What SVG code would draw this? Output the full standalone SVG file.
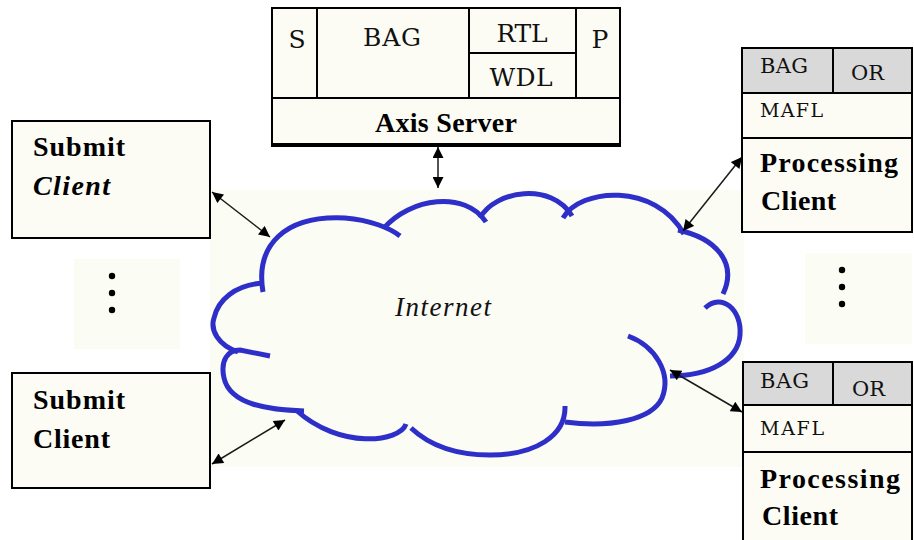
<svg xmlns="http://www.w3.org/2000/svg" width="914" height="540" viewBox="0 0 914 540">
  <style>
    .box { fill: #fcfcf4; stroke: #000; stroke-width: 2; }
    .hdr { fill: #d9d9d9; stroke: #000; stroke-width: 2; }
    .sep { stroke: #000; stroke-width: 2; fill: none; }
    .pale { fill: #fbfcf4; stroke: none; }
    .reg { font-family: "DejaVu Serif", "Liberation Serif", serif; font-size: 25px; fill: #111; }
    .small { font-family: "DejaVu Serif", "Liberation Serif", serif; font-size: 21px; fill: #111; }
    .tiny { font-family: "DejaVu Serif", "Liberation Serif", serif; font-size: 19px; fill: #111; }
    .bold { font-family: "Liberation Serif", serif; font-size: 28px; font-weight: bold; fill: #000; }
    .cloud { fill: none; stroke: #2e2ec8; stroke-width: 5; stroke-linecap: butt; }
    .link { stroke: #1a1a1a; stroke-width: 1.5; fill: none; marker-start: url(#head); marker-end: url(#head); }
    .dot { fill: #000; }
  </style>
  <defs>
    <marker id="head" viewBox="0 0 10 10" refX="10" refY="5" markerWidth="13" markerHeight="11" markerUnits="userSpaceOnUse" orient="auto-start-reverse">
      <path d="M0,0 L10,5 L0,10 z" fill="#000"/>
    </marker>
  </defs>

  <rect width="914" height="540" fill="#ffffff"/>

  <!-- pale backdrops behind the cloud and the ellipsis marks -->
  <rect class="pale" x="210" y="190" width="534" height="277"/>
  <rect class="pale" x="74" y="259" width="106" height="90"/>
  <rect class="pale" x="805" y="253" width="107" height="91"/>

  <!-- Internet cloud -->
  <g id="internet">
    <path class="cloud" d="M263,292 C255,245 285,215 345,218 C370,220 390,228 400,236"/>
    <path class="cloud" d="M384,228 C410,198 465,190 486,222"/>
    <path class="cloud" d="M480,218 C495,190 552,182 572,216"/>
    <path class="cloud" d="M563,218 C580,188 655,182 684,234"/>
    <path class="cloud" d="M678,230 C715,238 738,262 723,294"/>
    <path class="cloud" d="M705,308 C722,292 742,310 740,335 C738,360 710,376 670,376"/>
    <path class="cloud" d="M628,336 C655,346 672,373 662,398 C652,420 610,428 565,422"/>
    <path class="cloud" d="M565,406 C566,436 535,455 490,455 C452,455 428,444 411,428"/>
    <path class="cloud" d="M406,424 C400,442 340,450 296,410"/>
    <path class="cloud" d="M304,411 C270,410 230,405 224,378 C220,360 228,350 240,350 L270,356"/>
    <path class="cloud" d="M238,352 C218,345 210,330 214,318 C218,300 235,285 263,283"/>
    <text x="443" y="316" text-anchor="middle" font-family="Liberation Serif, serif" font-style="italic" font-size="27" textLength="96" lengthAdjust="spacing" fill="#111">Internet</text>
  </g>

  <!-- Axis Server stack -->
  <g id="axis-server">
    <rect class="box" x="272" y="8" width="348" height="137"/>
    <line class="sep" x1="272" y1="98" x2="620" y2="98"/>
    <line class="sep" x1="317" y1="8" x2="317" y2="98"/>
    <line class="sep" x1="469" y1="8" x2="469" y2="98"/>
    <line class="sep" x1="576" y1="8" x2="576" y2="98"/>
    <line class="sep" x1="469" y1="53" x2="576" y2="53"/>
    <line x1="271" y1="145" x2="621" y2="145" stroke="#000" stroke-width="4"/>
    <text class="reg" x="297" y="48" text-anchor="middle">S</text>
    <text class="reg" x="392" y="46" text-anchor="middle" textLength="58" lengthAdjust="spacing">BAG</text>
    <text class="reg" x="522" y="42" text-anchor="middle" textLength="51" lengthAdjust="spacing">RTL</text>
    <text class="reg" x="521" y="86" text-anchor="middle" textLength="63" lengthAdjust="spacing">WDL</text>
    <text class="reg" x="600" y="48" text-anchor="middle">P</text>
    <text class="bold" x="446" y="132" text-anchor="middle" font-size="26" textLength="142" lengthAdjust="spacing">Axis Server</text>
  </g>

  <!-- Submit clients -->
  <g id="submit-client-1">
    <rect class="box" x="12" y="121" width="198" height="117"/>
    <text class="bold" x="33" y="156" textLength="92" lengthAdjust="spacing">Submit</text>
    <text class="bold" x="33" y="195" font-style="italic" textLength="77" lengthAdjust="spacing">Client</text>
  </g>
  <g id="submit-client-2">
    <rect class="box" x="12" y="373" width="198" height="115"/>
    <text class="bold" x="33" y="409" textLength="92" lengthAdjust="spacing">Submit</text>
    <text class="bold" x="33" y="448" textLength="77" lengthAdjust="spacing">Client</text>
  </g>

  <!-- Processing clients -->
  <g id="processing-client-1">
    <rect class="box" x="742" y="48" width="170" height="184"/>
    <rect class="hdr" x="742" y="48" width="170" height="45"/>
    <line class="sep" x1="833" y1="48" x2="833" y2="93"/>
    <line class="sep" x1="742" y1="138" x2="912" y2="138"/>
    <text class="small" x="760" y="73" textLength="48" lengthAdjust="spacing">BAG</text>
    <text class="small" x="851" y="80" font-size="24">OR</text>
    <text class="tiny" x="760" y="117" textLength="63" lengthAdjust="spacing">MAFL</text>
    <text class="bold" x="760" y="172" textLength="138" lengthAdjust="spacing">Processing</text>
    <text class="bold" x="761" y="210" textLength="75" lengthAdjust="spacing">Client</text>
  </g>
  <g id="processing-client-2">
    <rect class="box" x="743" y="362" width="169" height="190"/>
    <rect class="hdr" x="743" y="362" width="169" height="43"/>
    <line class="sep" x1="833" y1="362" x2="833" y2="405"/>
    <line class="sep" x1="743" y1="452" x2="912" y2="452"/>
    <text class="small" x="760" y="388" textLength="49" lengthAdjust="spacing">BAG</text>
    <text class="small" x="852" y="396" font-size="24">OR</text>
    <text class="tiny" x="760" y="435" textLength="64" lengthAdjust="spacing">MAFL</text>
    <text class="bold" x="760" y="488" textLength="140" lengthAdjust="spacing">Processing</text>
    <text class="bold" x="762" y="525" textLength="76" lengthAdjust="spacing">Client</text>
  </g>

  <!-- ellipsis marks between the client boxes -->
  <g id="more-submit">
    <circle class="dot" cx="112" cy="276" r="3.2"/>
    <circle class="dot" cx="112" cy="293" r="3.2"/>
    <circle class="dot" cx="112" cy="310" r="3.2"/>
  </g>
  <g id="more-processing">
    <circle class="dot" cx="842" cy="270" r="3.2"/>
    <circle class="dot" cx="842" cy="287" r="3.2"/>
    <circle class="dot" cx="842" cy="304" r="3.2"/>
  </g>

  <!-- connectors -->
  <g id="connectors">
    <line class="link" x1="212" y1="192" x2="270" y2="237"/>
    <line class="link" x1="212" y1="464" x2="285" y2="420"/>
    <line class="link" x1="438" y1="147" x2="438" y2="188"/>
    <line class="link" x1="742" y1="157" x2="683" y2="231"/>
    <line class="link" x1="670" y1="370" x2="742" y2="412"/>
  </g>
</svg>
